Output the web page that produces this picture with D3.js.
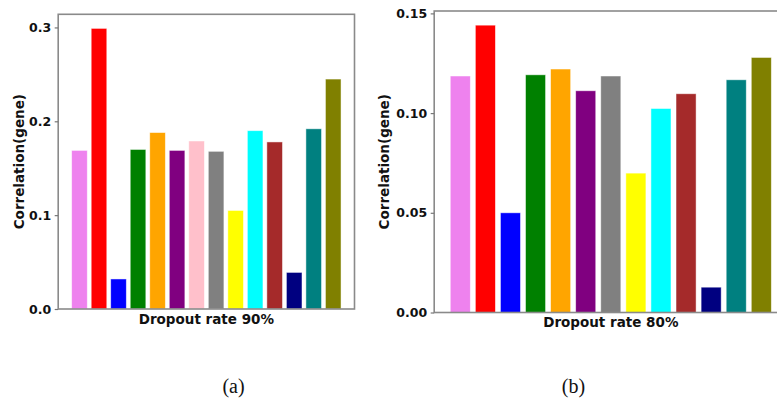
<!DOCTYPE html>
<html>
<head>
<meta charset="utf-8">
<script src="https://cdn.jsdelivr.net/npm/d3@7"></script>
<style>
	body { margin: 0; background: #fff; }
	svg { display: block; }
</style>
</head>
<body>
<div id="chart"></div>
<script>
// methods are only known by their bar colour
var methodsA = ["violet", "red", "blue", "green", "orange", "purple", "pink", "gray", "yellow", "cyan", "brown", "navy", "teal", "olive"];
var valuesA = [0.169, 0.299, 0.032, 0.170, 0.188, 0.169, 0.179, 0.168, 0.105, 0.190, 0.178, 0.039, 0.192, 0.245];

var methodsB = ["violet", "red", "blue", "green", "orange", "purple", "gray", "yellow", "cyan", "brown", "navy", "teal", "olive"];
var valuesB = [0.1186, 0.1441, 0.0500, 0.1192, 0.1221, 0.1112, 0.1186, 0.0699, 0.1023, 0.1097, 0.0127, 0.1167, 0.1279];

var ticksA = [0.0, 0.1, 0.2, 0.3];
var ticksB = [0.00, 0.05, 0.10, 0.15];

var color = d3.scaleOrdinal()
	.domain(methodsA)
	.range(["#EE82EE", "#FF0000", "#0000FF", "#008000", "#FFA500", "#800080", "#FFC0CB",
		"#808080", "#FFFF00", "#00FFFF", "#A52A2A", "#000080", "#008080", "#808000"]);

var svg = d3.select("#chart").append("svg")
	.attr("width", 777)
	.attr("height", 399);

var font = "'DejaVu Sans', sans-serif";

function panel(opt) {
	var n = opt.methods.length;
	var data = opt.methods.map(function(m, i) { return {method: m, value: opt.values[i]}; });

	var x = d3.scaleBand()
		.domain(opt.methods)
		.range([opt.left, opt.right])
		.paddingInner(0.2)
		.paddingOuter(0.05 * (n - 0.2));
	var y = d3.scaleLinear()
		.domain([0, opt.max])
		.range([opt.bottom, opt.top]);

	var g = svg.append("g");

	g.selectAll("rect.bar")
		.data(data)
		.enter()
		.append("rect")
		.attr("class", "bar")
		.attr("x", function(d) { return x(d.method); })
		.attr("width", x.bandwidth())
		.attr("y", function(d) { return y(d.value); })
		.attr("height", function(d) { return y(0) - y(d.value); })
		.attr("fill", function(d) { return color(d.method); })
		.attr("stroke", "#fff")
		.attr("stroke-opacity", 0.6)
		.attr("stroke-width", 0.8);

	// frame
	g.append("rect")
		.attr("x", opt.left)
		.attr("y", opt.top)
		.attr("width", opt.right - opt.left)
		.attr("height", opt.bottom - opt.top)
		.attr("fill", "none")
		.attr("stroke", "#8a8a8a")
		.attr("stroke-width", 1.6);

	var yAxis = d3.axisLeft(y)
		.tickValues(opt.ticks)
		.tickFormat(d3.format(opt.fmt))
		.tickSize(3.5)
		.tickPadding(3.5);
	var ax = g.append("g")
		.attr("transform", "translate(" + opt.left + ",0)")
		.call(yAxis);
	ax.select(".domain").remove();
	ax.selectAll("line").attr("stroke", "#777").attr("stroke-width", 1.2);
	ax.selectAll("text")
		.attr("font-family", font)
		.attr("font-weight", "bold")
		.attr("font-size", 12.5)
		.attr("fill", "#111");

	g.append("text")
		.attr("transform", "translate(" + opt.ylabX + "," + ((opt.top + opt.bottom) / 2) + ") rotate(-90)")
		.attr("text-anchor", "middle")
		.attr("font-family", font)
		.attr("font-weight", "bold")
		.attr("font-size", 13.5)
		.attr("fill", "#111")
		.text("Correlation(gene)");

	g.append("text")
		.attr("x", (opt.left + opt.right) / 2)
		.attr("y", opt.xlabY)
		.attr("text-anchor", "middle")
		.attr("font-family", font)
		.attr("font-weight", "bold")
		.attr("font-size", 13.5)
		.attr("fill", "#111")
		.text(opt.xlabel);

	svg.append("text")
		.attr("x", opt.capX)
		.attr("y", 393)
		.attr("text-anchor", "middle")
		.attr("font-family", "'Liberation Serif', 'Times New Roman', serif")
		.attr("font-size", 20)
		.attr("fill", "#111")
		.text(opt.caption);
}

panel({
	methods: methodsA, values: valuesA, ticks: ticksA, fmt: ".1f",
	left: 58.2, right: 354.5, top: 14.3, bottom: 309, max: 0.314,
	ylabX: 23.5, xlabY: 323.5, xlabel: "Dropout rate 90%", capX: 233.5, caption: "(a)"
});

panel({
	methods: methodsB, values: valuesB, ticks: ticksB, fmt: ".2f",
	left: 434.2, right: 787.4, top: 11, bottom: 312.5, max: 0.1512,
	ylabX: 389, xlabY: 327, xlabel: "Dropout rate 80%", capX: 573.5, caption: "(b)"
});
</script>
</body>
</html>
